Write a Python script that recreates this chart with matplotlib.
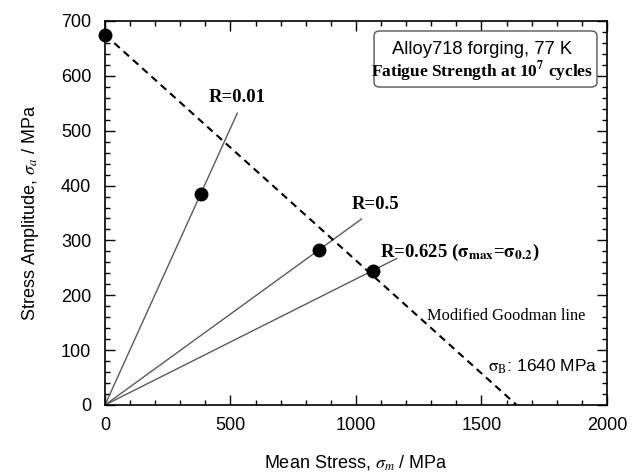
import matplotlib
matplotlib.use("Agg")
import matplotlib.pyplot as plt
from matplotlib.ticker import MultipleLocator
from matplotlib.patches import FancyBboxPatch

plt.rcParams['font.family'] = ['Liberation Sans', 'DejaVu Sans']
plt.rcParams['mathtext.fontset'] = 'stix'

# Data
goodman_sm = [0, 1640]
goodman_sa = [675, 0]
pt_sm = [0, 383, 854, 1069]
pt_sa = [675, 385, 282, 244]
r_labels = ['R=0.01', 'R=0.5', r'R=0.625 ($\mathbf{\sigma_{max}}$=$\mathbf{\sigma_{0.2}}$)']
r_end_sm = [527, 1022, 1162]
r_end_sa = [532, 339, 267]
r_label_sm = [526, 984, 1096]
r_label_sa = [561, 366, 279]

fig = plt.figure(figsize=(6.43, 4.75), dpi=100)
ax = fig.add_axes([0.1633, 0.1474, 0.7807, 0.8084])

for xe, ye in zip(r_end_sm, r_end_sa):
    ax.plot([0, xe], [0, ye], color='#5a5a5a', lw=1.0, zorder=2)

ax.plot(goodman_sm, goodman_sa, color='black', lw=1.5, ls=(0, (3.5, 2.5)), zorder=3)
ax.plot(pt_sm, pt_sa, 'o', color='black', ms=9, zorder=4, clip_on=False)

ax.text(r_label_sm[0], r_label_sa[0], r_labels[0], ha='center', va='center',
        family='Liberation Serif', weight='bold', fontsize=13.5)
for i in (1, 2):
    ax.text(r_label_sm[i], r_label_sa[i], r_labels[i], ha='left', va='center',
            family='Liberation Serif', weight='bold', fontsize=13.5)

ax.text(1283, 162, 'Modified Goodman line', ha='left', va='center',
        family='Liberation Serif', fontsize=11.8)
ax.text(1964, 69, r'$\mathrm{\sigma}_\mathrm{B}$: 1640 MPa', ha='right', va='center', fontsize=12.5)

box = FancyBboxPatch((0.536, 0.828), 0.444, 0.146, transform=ax.transAxes,
                     boxstyle='round,pad=0,rounding_size=0.012', fc='white', ec='#555555', lw=1.0, zorder=5)
ax.add_patch(box)
ax.text(0.752, 0.927, 'Alloy718 forging, 77 K', transform=ax.transAxes, ha='center', va='center',
        fontsize=13.2, zorder=6)
ax.text(0.752, 0.868, r'Fatigue Strength at 10$^{\mathbf{7}}$ cycles', transform=ax.transAxes,
        ha='center', va='center', family='Liberation Serif', weight='bold', fontsize=12.5, zorder=6)

ax.set_xlim(0, 2000)
ax.set_ylim(0, 700)
ax.xaxis.set_major_locator(MultipleLocator(500))
ax.xaxis.set_minor_locator(MultipleLocator(100))
ax.yaxis.set_major_locator(MultipleLocator(100))
ax.yaxis.set_minor_locator(MultipleLocator(20))
ax.tick_params(which='both', direction='in', top=True, right=True, labelsize=13, width=1.0)
ax.tick_params(which='major', length=7)
ax.tick_params(axis='x', which='major', pad=9)
ax.tick_params(axis='y', which='major', pad=10)
ax.tick_params(which='minor', length=3.5)
for s in ax.spines.values():
    s.set_linewidth(1.2)

ax.set_xlabel(r'Mean Stress, $\sigma_m$ / MPa', fontsize=13, labelpad=13)
ax.set_ylabel(r'Stress Amplitude, $\sigma_a$ / MPa', fontsize=13, labelpad=14)

fig.savefig('out.png', dpi=100)
